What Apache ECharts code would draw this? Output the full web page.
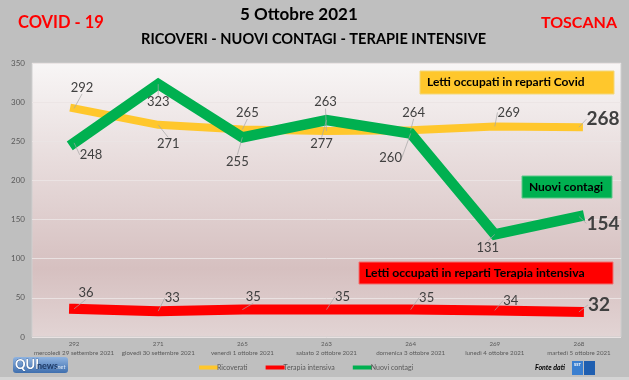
<!DOCTYPE html>
<html><head><meta charset="utf-8">
<script src="https://cdn.jsdelivr.net/npm/echarts@6/dist/echarts.min.js"></script>
<style>html,body{margin:0;padding:0;background:#bfbfbf;}#c{width:629px;height:380px;}</style>
</head><body><div id="c"></div>
<script>
const dates = ['mercoledì 29 settembre 2021','giovedì 30 settembre 2021','venerdì 1 ottobre 2021','sabato 2 ottobre 2021','domenica 3 ottobre 2021','lunedì 4 ottobre 2021','martedì 5 ottobre 2021'];
const ricoverati = [292, 271, 265, 263, 264, 269, 268];
const terapiaIntensiva = [36, 33, 35, 35, 35, 34, 32];
const nuoviContagi = [248, 323, 255, 277, 260, 131, 154];
const yTicks = {min: 0, max: 350, interval: 50};

// label offsets (styling only)
const offRic = [[8,-21],[10,19],[5,-17],[-1,-29],[3,-18],[14,-14],[24,-8]];
const offNuovi = [[17,12],[0,18],[-5,24],[-5,24],[-20,24],[-7,13],[24,7]];
const offTer = [[12,-16],[14,-13],[11,-13],[16,-13],[16,-12],[16,-10],[20,-7]];

const FONT = 'Lato, "Open Sans", sans-serif';
const chart = echarts.init(document.getElementById('c'), null, {renderer:'canvas'});
const categories = dates.map((d,i)=> ricoverati[i] + '\n' + d);

function mkSeries(name, data, color, width, offs){
  const last = data.length - 1;
  return {
    name, type:'line', data: data.map((v,i)=>({
      value: v,
      label: i===last ? {fontSize:19, fontWeight:'bold', color:'#404040'} : {}
    })),
    symbol:'circle', symbolSize:0.01, showSymbol:true,
    itemStyle:{color},
    lineStyle:{color, width, cap:'square', join:'miter'},
    label:{show:true, position:'inside', fontFamily:FONT, fontSize:13, color:'#404040'},
    labelLine:{show:true, lineStyle:{color:'#a6a6a6', width:0.7}},
    labelLayout: function(p){
      const o = offs[p.dataIndex];
      return {dx:o[0], dy:o[1]};
    },
    emphasis:{disabled:true},
    animation:false
  };
}

const option = {
  backgroundColor:'#bfbfbf',
  animation:false,
  grid:{left:32, right:8, top:63, bottom:43, show:true,
    borderColor:'#cfcfcf', borderWidth:1,
    backgroundColor:{type:'linear',x:0,y:0,x2:0,y2:1,colorStops:[
      {offset:0,color:'#f8f6f6'},{offset:0.75,color:'#d6c0c0'},{offset:1,color:'#e2d4d4'}]}},
  xAxis:{type:'category', data:categories, boundaryGap:true,
    axisLine:{show:false}, axisTick:{show:false},
    axisLabel:{fontFamily:FONT, fontSize:6.2, color:'#595959', lineHeight:9, margin:3, interval:0}},
  yAxis:{type:'value', min:yTicks.min, max:yTicks.max, interval:yTicks.interval,
    axisLine:{show:false}, axisTick:{show:false},
    axisLabel:{fontFamily:FONT, fontSize:8, color:'#595959', margin:7},
    splitLine:{lineStyle:{color:'rgba(235,228,228,0.9)', width:1}}},
  legend:{bottom:4, left:194, icon:'rect', itemWidth:19, itemHeight:4, itemGap:18,
    textStyle:{fontFamily:FONT, fontSize:7, color:'#595959', padding:[0,0,0,-6]},
    data:['Ricoverati','Terapia intensiva','Nuovi contagi']},
  series:[
    mkSeries('Ricoverati', ricoverati, '#FFC72C', 8, offRic),
    mkSeries('Terapia intensiva', terapiaIntensiva, '#FF0000', 10, offTer),
    mkSeries('Nuovi contagi', nuoviContagi, '#00B050', 10.5, offNuovi)
  ],
  graphic:[
    {type:'text', left:18, top:14, style:{text:'COVID - 19', fill:'#FF0000', font:'bold 16.5px '+FONT}},
    {type:'text', left:240, top:6, style:{text:'5 Ottobre 2021', fill:'#000', font:'bold 17px '+FONT}},
    {type:'text', left:141, top:32, style:{text:'RICOVERI - NUOVI CONTAGI - TERAPIE INTENSIVE', fill:'#000', font:'bold 14.6px '+FONT}},
    {type:'text', right:12, top:15, style:{text:'TOSCANA', fill:'#FF0000', font:'bold 16px '+FONT}},
    // callouts
    {type:'rect', shape:{x:420,y:71,width:194,height:23}, style:{fill:'#FFC72C', stroke:'#f2d77a', lineWidth:1}, z:10},
    {type:'text', x:427, y:82.5, style:{text:'Letti occupati in reparti Covid', fill:'#000', font:'bold 12px '+FONT, verticalAlign:'middle'}, z:11},
    {type:'rect', shape:{x:522,y:176,width:90,height:22}, style:{fill:'#00B050', stroke:'#5fc98a', lineWidth:1}, z:10},
    {type:'text', x:566, y:187, style:{text:'Nuovi contagi', fill:'#000', font:'bold 12px '+FONT, align:'center', verticalAlign:'middle'}, z:11},
    {type:'rect', shape:{x:359,y:262,width:254,height:22}, style:{fill:'#FF0000', stroke:'#f07070', lineWidth:1}, z:10},
    {type:'text', x:365, y:273, style:{text:'Letti occupati in reparti Terapia intensiva', fill:'#000', font:'bold 12.2px '+FONT, verticalAlign:'middle'}, z:11},
    // QUInews logo
    {type:'rect', shape:{x:13,y:357,width:55,height:16,r:3}, style:{fill:{type:'linear',x:0,y:0,x2:0,y2:1,colorStops:[{offset:0,color:'#8fb3e0'},{offset:1,color:'#3f6fae'}]}}},
    {type:'text', x:15, y:365, style:{text:'QUI', fill:'#fff', font:'bold 13px '+FONT, verticalAlign:'middle', stroke:'#2a4f85', lineWidth:0.6}},
    {type:'text', x:37, y:366, style:{text:'news', fill:'#1e3a66', font:'bold 9px '+FONT, verticalAlign:'middle'}},
    {type:'text', x:56, y:367, style:{text:'.net', fill:'#dbe8f8', font:'italic 6px '+FONT, verticalAlign:'middle'}},
    // Fonte dati
    {type:'text', x:535, y:368, style:{text:'Fonte dati', fill:'#000', font:'italic bold 7px '+FONT, verticalAlign:'middle'}},
    {type:'rect', shape:{x:572,y:361,width:11,height:14}, style:{fill:'#3a7fd0'}},
    {type:'rect', shape:{x:584,y:361,width:11,height:14}, style:{fill:'#1f5fb0'}},
    {type:'text', x:574, y:365, style:{text:'SST', fill:'#fff', font:'bold 4px '+FONT, verticalAlign:'middle'}},
    {type:'rect', shape:{x:0,y:377,width:629,height:3}, style:{fill:'#d4d4d4'}}
  ]
};
chart.setOption(option);
</script></body></html>
